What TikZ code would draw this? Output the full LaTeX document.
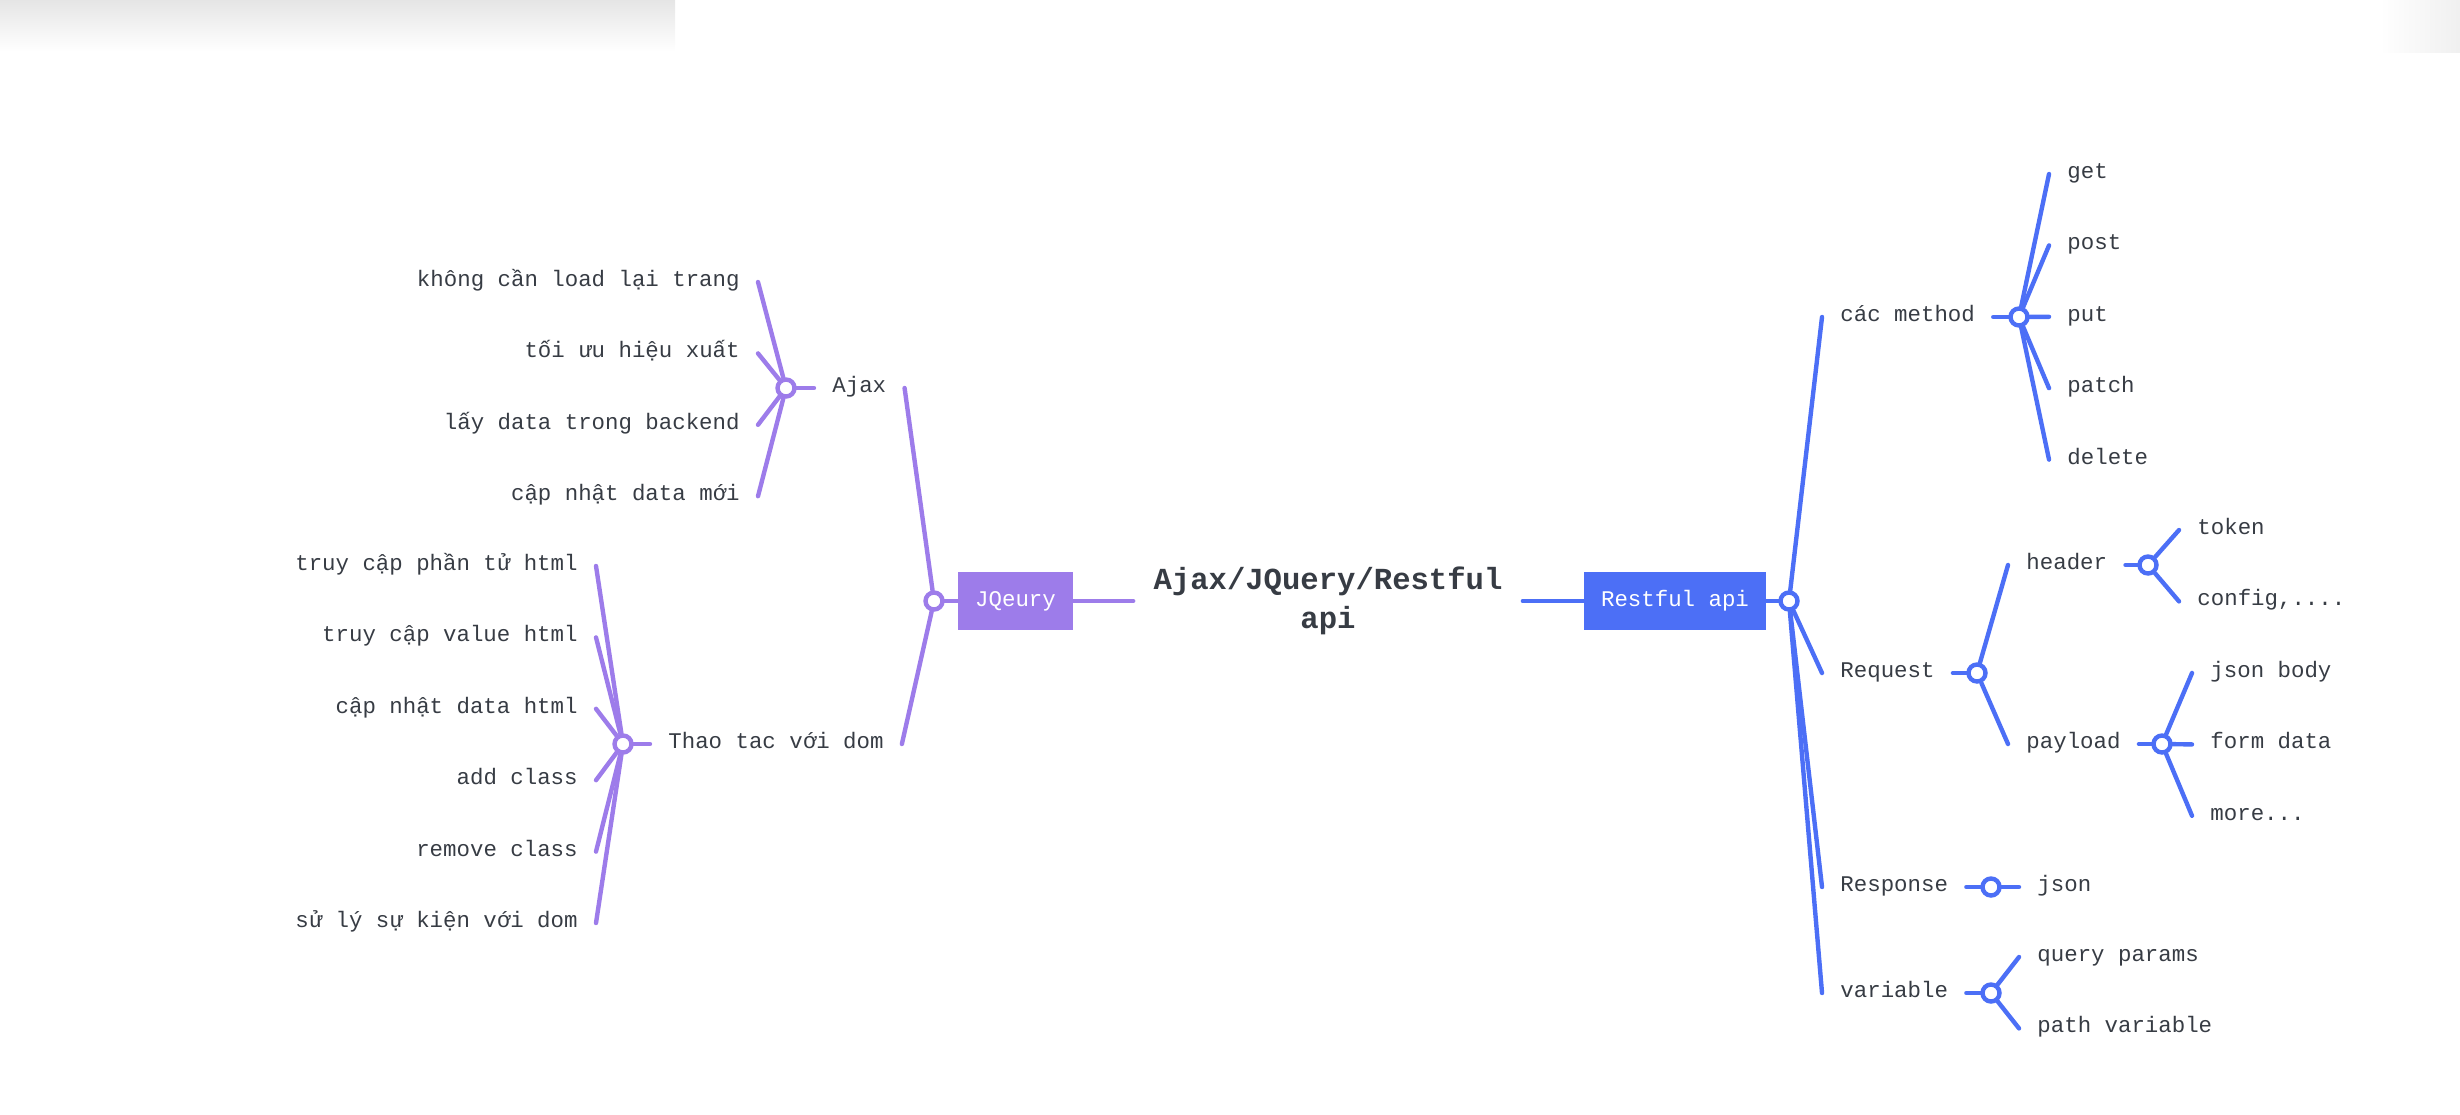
\documentclass[tikz,border=0pt]{standalone}
\usepackage{fontspec}
\setmonofont{Liberation Mono}
\usepackage{xcolor}
\definecolor{jqcol}{RGB}{157,124,234}
\definecolor{apicol}{RGB}{76,111,246}
\definecolor{txtcol}{RGB}{55,60,68}
\newcommand\tdots{...}
\tikzset{
  leaf/.style={font=\ttfamily\fontsize{11.2}{13}\selectfont,text=txtcol,
               inner xsep=9pt,inner ysep=0pt,text height=0.72em,text depth=0.28em},
  rootnode/.style={font=\ttfamily\bfseries\fontsize{15.3}{19.6}\selectfont,
                   text=txtcol,align=center,inner xsep=10pt},
  mainbox/.style={fill=#1,text=white,font=\ttfamily\fontsize{11.2}{13}\selectfont,
                  minimum height=29pt,inner xsep=8.5pt},
  jct/.style={circle,draw=#1,fill=white,line width=2.2pt,minimum size=8.5pt,inner sep=0pt},
  branch/.style={#1,line width=2.2pt,line cap=round}
}

\begin{document}
\begin{tikzpicture}[x=0.5pt,y=-0.5pt]
  \useasboundingbox (0,0) rectangle (2460,1114);
  \def\dy{71.4}

  % SHADOWS
  \shade[top color=black!10,bottom color=white] (0,0) rectangle (675,52);
  \shade[left color=white,right color=black!6] (2380,0) rectangle (2460,52);

  % ROOT
  \node[rootnode] (root) at (1328,601) {Ajax/JQuery/Restful\\api};
  \node[mainbox=jqcol] (jq) at (1015.5,601) {JQeury};
  \node[mainbox=apicol] (rest) at (1675,601) {Restful api};
  \draw[branch=jqcol] (root.west) -- (jq.east);
  \draw[branch=apicol] (root.east) -- (rest.west);

  % JQUERY SIDE
  \node[jct=jqcol] (jqJ) at (934,601) {};
  \draw[branch=jqcol] (jq.west) -- (jqJ);
  \node[leaf,anchor=west] (ajax) at (814,388) {Ajax};
  \node[leaf,anchor=west] (thao) at (650,744) {Thao tac với dom};
  \draw[branch=jqcol] (jqJ) -- (ajax.east);
  \draw[branch=jqcol] (jqJ) -- (thao.east);

  \node[jct=jqcol] (ajaxJ) at (786,388) {};
  \draw[branch=jqcol] (ajaxJ) -- (ajax.west);
  \foreach \t [count=\i] in {không cần load lại trang,tối ưu hiệu xuất,
                             lấy data trong backend,cập nhật data mới}{
    \node[leaf,anchor=east] (aj\i) at (758,{282+\dy*(\i-1)}) {\t};
    \draw[branch=jqcol] (aj\i.east) -- (ajaxJ);
  }

  \node[jct=jqcol] (thaoJ) at (623,744) {};
  \draw[branch=jqcol] (thaoJ) -- (thao.west);
  \foreach \t [count=\i] in {truy cập phần tử html,truy cập value html,
                             cập nhật data html,add class,remove class,
                             sử lý sự kiện với dom}{
    \node[leaf,anchor=east] (dom\i) at (596,{566+\dy*(\i-1)}) {\t};
    \draw[branch=jqcol] (dom\i.east) -- (thaoJ);
  }

  % RESTFUL SIDE
  \node[jct=apicol] (restJ) at (1789,601) {};
  \draw[branch=apicol] (rest.east) -- (restJ);
  \node[leaf,anchor=west] (meth) at (1822,317) {các method};
  \node[leaf,anchor=west] (req) at (1822,673) {Request};
  \node[leaf,anchor=west] (resp) at (1822,887) {Response};
  \node[leaf,anchor=west] (vari) at (1822,993) {variable};
  \foreach \n in {meth,req,resp,vari}
    \draw[branch=apicol] (restJ) -- (\n.west);

  % methods
  \node[jct=apicol] (methJ) at (2019,317) {};
  \draw[branch=apicol] (meth.east) -- (methJ);
  \foreach \t [count=\i] in {get,post,put,patch,delete}{
    \node[leaf,anchor=west] (m\i) at (2049,{174+\dy*(\i-1)}) {\t};
    \draw[branch=apicol] (methJ) -- (m\i.west);
  }

  % request
  \node[jct=apicol] (reqJ) at (1977,673) {};
  \draw[branch=apicol] (req.east) -- (reqJ);
  \node[leaf,anchor=west] (hdr) at (2008,565) {header};
  \node[leaf,anchor=west] (pay) at (2008,744) {payload};
  \draw[branch=apicol] (reqJ) -- (hdr.west);
  \draw[branch=apicol] (reqJ) -- (pay.west);

  \node[jct=apicol] (hdrJ) at (2148,565) {};
  \draw[branch=apicol] (hdr.east) -- (hdrJ);
  \foreach \t [count=\i] in {token,{config,.\tdots}}{
    \node[leaf,anchor=west] (h\i) at (2179,{530+\dy*(\i-1)}) {\t};
    \draw[branch=apicol] (hdrJ) -- (h\i.west);
  }

  \node[jct=apicol] (payJ) at (2162,744) {};
  \draw[branch=apicol] (pay.east) -- (payJ);
  \foreach \t [count=\i] in {json body,form data,more\tdots}{
    \node[leaf,anchor=west] (p\i) at (2192,{673+\dy*(\i-1)}) {\t};
    \draw[branch=apicol] (payJ) -- (p\i.west);
  }

  % response
  \node[jct=apicol] (respJ) at (1991,887) {};
  \draw[branch=apicol] (resp.east) -- (respJ);
  \node[leaf,anchor=west] (json) at (2019,887) {json};
  \draw[branch=apicol] (respJ) -- (json.west);

  % variable
  \node[jct=apicol] (varJ) at (1991,993) {};
  \draw[branch=apicol] (vari.east) -- (varJ);
  \foreach \t [count=\i] in {query params,path variable}{
    \node[leaf,anchor=west] (v\i) at (2019,{957+\dy*(\i-1)}) {\t};
    \draw[branch=apicol] (varJ) -- (v\i.west);
  }

\end{tikzpicture}
\end{document}
